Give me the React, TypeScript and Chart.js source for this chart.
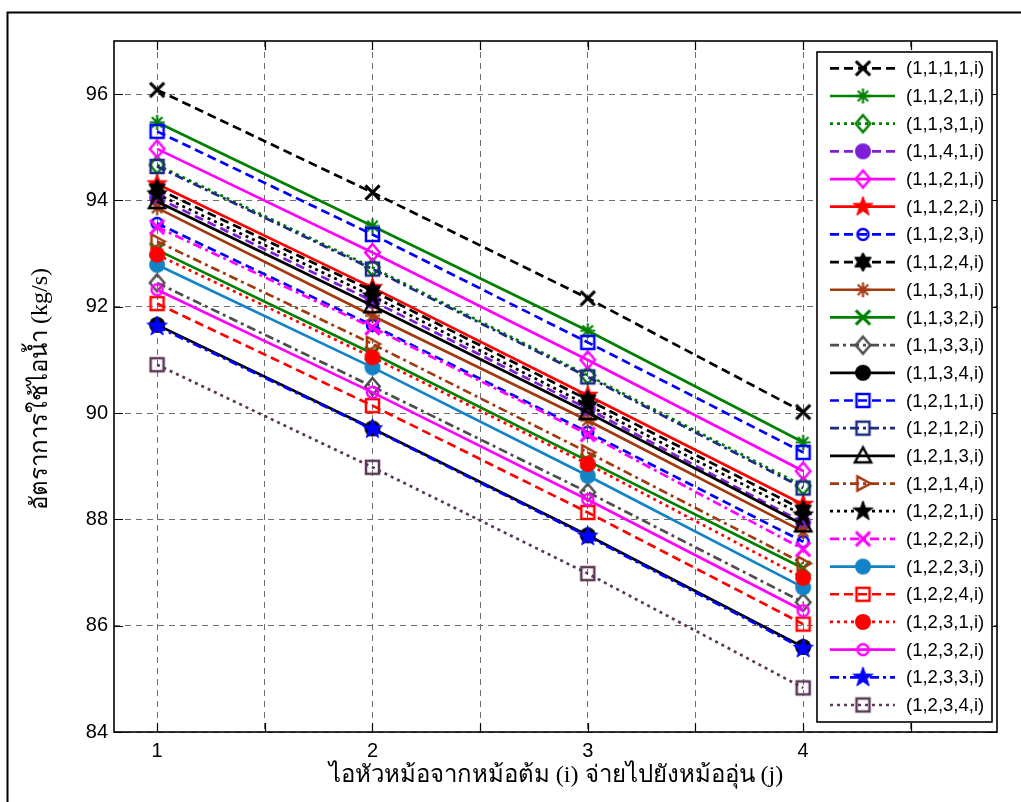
import React, { useEffect, useRef } from 'react';
import { Chart, registerables } from 'chart.js';

Chart.register(...registerables);

// Steam-usage rate for each heater/boiler configuration, evaluated at i = 1..4
const xPositions = [1, 2, 3, 4];
const xTickValues = [1, 1.5, 2, 2.5, 3, 3.5, 4, 4.5];
const yTickValues = [84, 86, 88, 90, 92, 94, 96];

const xAxisTitle = 'ไอหัวหม้อจากหม้อต้ม (i) จ่ายไปยังหม้ออุ่น (j)';
const yAxisTitle = 'อัตราการใช้ไอน้ำ (kg/s)';

const seriesLabels = [
  '(1,1,1,1,i)', '(1,1,2,1,i)', '(1,1,3,1,i)', '(1,1,4,1,i)',
  '(1,1,2,1,i)', '(1,1,2,2,i)', '(1,1,2,3,i)', '(1,1,2,4,i)',
  '(1,1,3,1,i)', '(1,1,3,2,i)', '(1,1,3,3,i)', '(1,1,3,4,i)',
  '(1,2,1,1,i)', '(1,2,1,2,i)', '(1,2,1,3,i)', '(1,2,1,4,i)',
  '(1,2,2,1,i)', '(1,2,2,2,i)', '(1,2,2,3,i)', '(1,2,2,4,i)',
  '(1,2,3,1,i)', '(1,2,3,2,i)', '(1,2,3,3,i)', '(1,2,3,4,i)',
];

const rate01 = [96.08, 94.15, 92.16, 90.02];
const rate02 = [95.47, 93.52, 91.55, 89.45];
const rate03 = [94.67, 92.74, 90.71, 88.63];
const rate04 = [94.05, 92.11, 90.08, 87.94];
const rate05 = [94.97, 93.02, 91.0, 88.91];
const rate06 = [94.31, 92.36, 90.33, 88.28];
const rate07 = [93.57, 91.65, 89.64, 87.58];
const rate08 = [94.22, 92.3, 90.25, 88.18];
const rate09 = [93.86, 91.83, 89.86, 87.77];
const rate10 = [93.07, 91.12, 89.1, 87.08];
const rate11 = [92.45, 90.5, 88.51, 86.44];
const rate12 = [91.66, 89.71, 87.7, 85.6];
const rate13 = [95.3, 93.36, 91.33, 89.26];
const rate14 = [94.64, 92.71, 90.68, 88.59];
const rate15 = [93.98, 92.02, 90.01, 87.9];
const rate16 = [93.23, 91.3, 89.26, 87.17];
const rate17 = [94.12, 92.2, 90.15, 88.08];
const rate18 = [93.5, 91.61, 89.6, 87.44];
const rate19 = [92.79, 90.86, 88.82, 86.72];
const rate20 = [92.06, 90.14, 88.13, 86.03];
const rate21 = [92.98, 91.05, 89.04, 86.9];
const rate22 = [92.32, 90.39, 88.37, 86.28];
const rate23 = [91.63, 89.7, 87.68, 85.57];
const rate24 = [90.91, 88.98, 86.98, 84.83];

const seriesValues = [
  rate01, rate02, rate03, rate04, rate05, rate06, rate07, rate08,
  rate09, rate10, rate11, rate12, rate13, rate14, rate15, rate16,
  rate17, rate18, rate19, rate20, rate21, rate22, rate23, rate24,
];

// Styling per series (colour, line style, marker)
const BLACK = '#000000';
const GREEN = '#008000';
const PURPLE = '#7e1ed9';
const MAGENTA = '#ff00ff';
const RED = '#ff0000';
const BLUE = '#0000ff';
const BROWN = '#a33a0f';
const GRAY = '#4d4d4d';
const NAVY = '#1c2c80';
const CYAN = '#1283c6';
const PLUM = '#5b3858';

const seriesColors = [
  BLACK, GREEN, GREEN, PURPLE, MAGENTA, RED, BLUE, BLACK,
  BROWN, GREEN, GRAY, BLACK, BLUE, NAVY, BLACK, BROWN,
  BLACK, MAGENTA, CYAN, RED, RED, MAGENTA, BLUE, PLUM,
];

type LineKind = 'solid' | 'dash' | 'dot' | 'dashdot';
const seriesLineKinds: LineKind[] = [
  'dash', 'solid', 'dot', 'dash', 'solid', 'solid', 'dash', 'dash',
  'solid', 'solid', 'dashdot', 'solid', 'dash', 'dashdot', 'solid', 'dashdot',
  'dot', 'dashdot', 'solid', 'dash', 'dot', 'solid', 'dashdot', 'dot',
];

type MarkerKind =
  | 'x' | 'asterisk' | 'diamond' | 'disc' | 'ring' | 'pentagram'
  | 'hexagram' | 'square' | 'triangle' | 'triRight';
const seriesMarkers: MarkerKind[] = [
  'x', 'asterisk', 'diamond', 'disc', 'diamond', 'pentagram', 'ring', 'hexagram',
  'asterisk', 'x', 'diamond', 'disc', 'square', 'square', 'triangle', 'triRight',
  'pentagram', 'x', 'disc', 'square', 'disc', 'ring', 'pentagram', 'square',
];

const LINE_WIDTH = 2.7;

function dashFor(kind: LineKind): number[] {
  switch (kind) {
    case 'dash': return [9, 5];
    case 'dot': return [3, 4];
    case 'dashdot': return [9, 4, 3, 4];
    default: return [];
  }
}

function markerSize(kind: MarkerKind): number {
  switch (kind) {
    case 'pentagram': return 21;
    case 'hexagram': return 19;
    case 'disc': return 16;
    case 'ring': return 13;
    case 'triangle': return 17;
    case 'triRight': return 15;
    case 'diamond': return 17;
    case 'square': return 15;
    default: return 15;
  }
}

function starPath(g: CanvasRenderingContext2D, n: number, r: number, inner: number) {
  for (let k = 0; k < n * 2; k++) {
    const ang = -Math.PI / 2 + (k * Math.PI) / n;
    const rr = k % 2 === 0 ? r : inner;
    const px = Math.cos(ang) * rr;
    const py = Math.sin(ang) * rr;
    if (k === 0) g.moveTo(px, py);
    else g.lineTo(px, py);
  }
  g.closePath();
}

function makeMarker(kind: MarkerKind, color: string): HTMLCanvasElement {
  const size = markerSize(kind);
  const dim = Math.ceil(size + 6);
  const c = document.createElement('canvas');
  c.width = dim;
  c.height = dim;
  const g = c.getContext('2d') as CanvasRenderingContext2D;
  g.translate(dim / 2, dim / 2);
  g.strokeStyle = color;
  g.fillStyle = color;
  g.lineWidth = 2.5;
  g.lineJoin = 'miter';
  const r = size / 2;
  g.beginPath();
  switch (kind) {
    case 'x': {
      const d = r * 0.95;
      g.lineWidth = 3;
      g.moveTo(-d, -d); g.lineTo(d, d);
      g.moveTo(d, -d); g.lineTo(-d, d);
      g.stroke();
      break;
    }
    case 'asterisk': {
      g.lineWidth = 2.2;
      const d = r * 0.7;
      g.moveTo(0, -r); g.lineTo(0, r);
      g.moveTo(-r, 0); g.lineTo(r, 0);
      g.moveTo(-d, -d); g.lineTo(d, d);
      g.moveTo(d, -d); g.lineTo(-d, d);
      g.stroke();
      break;
    }
    case 'diamond':
      g.moveTo(0, -r); g.lineTo(r * 0.85, 0); g.lineTo(0, r); g.lineTo(-r * 0.85, 0);
      g.closePath();
      g.stroke();
      break;
    case 'disc':
      g.arc(0, 0, r, 0, Math.PI * 2);
      g.fill();
      break;
    case 'ring':
      g.arc(0, 0, r - 1, 0, Math.PI * 2);
      g.stroke();
      break;
    case 'pentagram':
      starPath(g, 5, r, r * 0.4);
      g.fill();
      g.lineWidth = 1;
      g.stroke();
      break;
    case 'hexagram':
      starPath(g, 6, r, r * 0.58);
      g.fill();
      g.lineWidth = 1;
      g.stroke();
      break;
    case 'square':
      g.rect(-r + 1, -r + 1, size - 2, size - 2);
      g.stroke();
      break;
    case 'triangle':
      g.moveTo(0, -r); g.lineTo(r * 0.95, r * 0.75); g.lineTo(-r * 0.95, r * 0.75);
      g.closePath();
      g.stroke();
      break;
    case 'triRight':
      g.moveTo(r, 0); g.lineTo(-r * 0.75, -r * 0.95); g.lineTo(-r * 0.75, r * 0.95);
      g.closePath();
      g.stroke();
      break;
  }
  return c;
}

// Plot area geometry in canvas pixels
const AREA_LEFT = 114;
const AREA_TOP = 41;
const AREA_RIGHT = 997;
const AREA_BOTTOM = 732;
const CANVAS_W = 1021;
const CANVAS_H = 802;

export default function App() {
  const canvasRef = useRef<HTMLCanvasElement | null>(null);

  useEffect(() => {
    const canvas = canvasRef.current;
    if (!canvas) return;
    const markers = seriesMarkers.map((m, i) => makeMarker(m, seriesColors[i]));
    const n = seriesValues.length;

    const datasets = seriesValues.map((vals, i) => ({
      label: seriesLabels[i],
      data: vals.map((v, k) => ({ x: xPositions[k], y: v })),
      borderColor: seriesColors[i],
      backgroundColor: seriesColors[i],
      borderWidth: LINE_WIDTH,
      borderDash: dashFor(seriesLineKinds[i]),
      borderCapStyle: 'butt' as const,
      pointStyle: markers[i],
      pointRadius: 8,
      pointHoverRadius: 8,
      tension: 0,
      fill: false,
      order: n - i,
    }));

    const decorPlugin = {
      id: 'decor',
      afterDraw(chart: any) {
        const { ctx, chartArea: a, scales } = chart;
        ctx.save();
        ctx.setLineDash([]);
        ctx.strokeStyle = '#000';

        // tick marks pointing into the plot area
        ctx.lineWidth = 1.2;
        ctx.beginPath();
        for (const v of xTickValues) {
          const px = Math.round(scales.x.getPixelForValue(v)) + 0.5;
          ctx.moveTo(px, a.bottom); ctx.lineTo(px, a.bottom - 9);
          ctx.moveTo(px, a.top); ctx.lineTo(px, a.top + 9);
        }
        for (const v of yTickValues) {
          const py = Math.round(scales.y.getPixelForValue(v)) + 0.5;
          ctx.moveTo(a.left, py); ctx.lineTo(a.left + 9, py);
          ctx.moveTo(a.right, py); ctx.lineTo(a.right - 9, py);
        }
        ctx.stroke();

        // axes box
        ctx.lineWidth = 1.6;
        ctx.strokeRect(a.left, a.top, a.right - a.left, a.bottom - a.top);

        // outer figure frame
        ctx.lineWidth = 2;
        ctx.beginPath();
        ctx.moveTo(7.5, CANVAS_H);
        ctx.lineTo(7.5, 12.5);
        ctx.lineTo(CANVAS_W, 12.5);
        ctx.stroke();

        // axis titles
        ctx.fillStyle = '#000';
        ctx.textAlign = 'center';
        ctx.textBaseline = 'middle';
        ctx.font = '24px "Liberation Serif", "DejaVu Serif", serif';
        ctx.fillText(xAxisTitle, 556, 776);
        ctx.save();
        ctx.translate(41, 389);
        ctx.rotate(-Math.PI / 2);
        ctx.fillText(yAxisTitle, 0, 0);
        ctx.restore();

        // legend box
        const lx0 = 817, lx1 = 992, ly0 = 52, ly1 = 722;
        ctx.fillStyle = '#fff';
        ctx.fillRect(lx0, ly0, lx1 - lx0, ly1 - ly0);
        ctx.lineWidth = 1.6;
        ctx.strokeStyle = '#000';
        ctx.strokeRect(lx0, ly0, lx1 - lx0, ly1 - ly0);
        const step = (705 - 68.3) / (n - 1);
        ctx.font = '18.5px "Liberation Sans", Arial, sans-serif';
        ctx.textAlign = 'left';
        for (let i = 0; i < n; i++) {
          const y = 68.3 + i * step;
          ctx.strokeStyle = seriesColors[i];
          ctx.lineWidth = LINE_WIDTH;
          ctx.lineCap = 'butt';
          ctx.setLineDash(dashFor(seriesLineKinds[i]));
          ctx.beginPath();
          ctx.moveTo(830, y);
          ctx.lineTo(895, y);
          ctx.stroke();
          ctx.setLineDash([]);
          const m = markers[i];
          ctx.drawImage(m, 863 - m.width / 2, y - m.height / 2);
          ctx.fillStyle = '#000';
          ctx.fillText(seriesLabels[i], 906, y + 1);
        }
        ctx.restore();
      },
    };

    const chart = new Chart(canvas, {
      type: 'line',
      data: { datasets },
      options: {
        responsive: false,
        animation: false,
        events: [],
        layout: {
          autoPadding: false,
          padding: { left: 0, top: AREA_TOP, right: CANVAS_W - AREA_RIGHT, bottom: 0 },
        },
        plugins: {
          legend: { display: false },
          tooltip: { enabled: false },
          title: { display: false },
        },
        scales: {
          x: {
            type: 'linear',
            min: 0.8,
            max: 4.9,
            afterFit: (scale: any) => { scale.height = CANVAS_H - AREA_BOTTOM; },
            afterBuildTicks: (scale: any) => { scale.ticks = xTickValues.map((value) => ({ value })); },
            ticks: {
              autoSkip: false,
              maxRotation: 0,
              padding: 7,
              color: '#000',
              font: { family: '"Liberation Sans", Arial, sans-serif', size: 20 },
              callback: (v: any) => (Number.isInteger(v) ? String(v) : ''),
            },
            grid: { color: '#6e6e6e', lineWidth: 1, drawTicks: false },
            border: { display: false, dash: [6, 5] },
          },
          y: {
            type: 'linear',
            min: 84,
            max: 97,
            afterFit: (scale: any) => { scale.width = AREA_LEFT; },
            afterBuildTicks: (scale: any) => { scale.ticks = yTickValues.map((value) => ({ value })); },
            ticks: {
              autoSkip: false,
              padding: 6,
              color: '#000',
              font: { family: '"Liberation Sans", Arial, sans-serif', size: 20 },
              callback: (v: any) => String(v),
            },
            grid: { color: '#6e6e6e', lineWidth: 1, drawTicks: false },
            border: { display: false, dash: [6, 5] },
          },
        },
      },
      plugins: [decorPlugin],
    });

    return () => chart.destroy();
  }, []);

  return (
    <div style={{ position: 'absolute', left: 0, top: 0, width: CANVAS_W, height: CANVAS_H, background: '#fff' }}>
      <canvas ref={canvasRef} width={CANVAS_W} height={CANVAS_H} style={{ display: 'block' }} />
    </div>
  );
}
